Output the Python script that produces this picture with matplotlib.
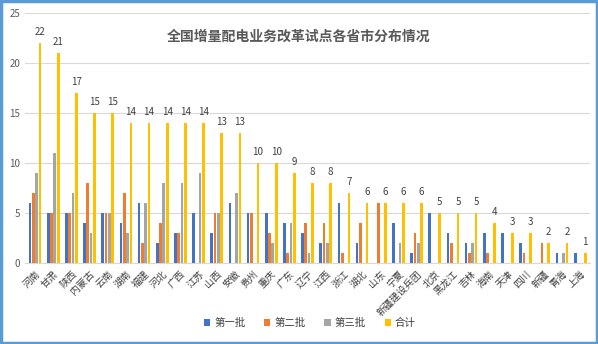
import numpy as np
import matplotlib.pyplot as plt
from matplotlib.patches import Rectangle

plt.rcParams['font.family'] = ['Noto Sans CJK SC', 'DejaVu Sans']

# data
provinces = ['河南', '甘肃', '陕西', '内蒙古', '云南', '湖南', '福建', '河北', '广西', '江苏',
             '山西', '安徽', '贵州', '重庆', '广东', '辽宁', '江西', '浙江', '湖北', '山东',
             '宁夏', '新疆建设兵团', '北京', '黑龙江', '吉林', '海南', '天津', '四川', '新疆',
             '青海', '上海']
batch1 = [6, 5, 5, 4, 5, 4, 6, 2, 3, 5, 3, 6, 5, 5, 4, 3, 2, 6, 2, 0, 4, 1, 5, 3, 2, 3, 3, 2, 0, 1, 1]
batch2 = [7, 5, 5, 8, 5, 7, 2, 4, 3, 0, 5, 0, 5, 3, 1, 4, 4, 1, 4, 6, 0, 3, 0, 2, 1, 1, 0, 1, 2, 0, 0]
batch3 = [9, 11, 7, 3, 5, 3, 6, 8, 8, 9, 5, 7, 0, 2, 4, 1, 2, 0, 0, 0, 2, 2, 0, 0, 2, 0, 0, 0, 0, 1, 0]
total = [22, 21, 17, 15, 15, 14, 14, 14, 14, 14, 13, 13, 10, 10, 9, 8, 8, 7, 6, 6, 6, 6, 5, 5, 5, 4, 3, 3, 2, 2, 1]

series = [('第一批', batch1, '#4472C4'), ('第二批', batch2, '#ED7D31'),
          ('第三批', batch3, '#A5A5A5'), ('合计', total, '#FFC000')]

fig = plt.figure(figsize=(5.98, 3.44), dpi=100)
ax = fig.add_axes([0.042, 0.235, 0.945, 0.727])

x = np.arange(len(provinces))
offsets = [-0.28, -0.10, 0.08, 0.27]
w = 0.15
for (name, vals, col), off in zip(series, offsets):
    bars = ax.bar(x + off, vals, width=w, color=col, label=name, zorder=3)
    if name == '合计':
        for b, v in zip(bars, vals):
            ax.text(b.get_x() + b.get_width() / 2, v + 0.6, str(v), ha='center', va='bottom',
                    fontsize=7, color='#404040')

ax.set_xlim(-0.55, len(provinces) - 0.45)
ax.set_ylim(0, 25)
ax.set_yticks(range(0, 26, 5))
ax.set_xticks(x)
ax.set_xticklabels(provinces, rotation=45, ha='right', rotation_mode='anchor', fontsize=7,
                   color='#404040')
ax.tick_params(axis='y', labelsize=7, labelcolor='#595959', length=0)
ax.tick_params(axis='x', length=0, pad=4)
ax.grid(axis='y', color='#D9D9D9', linewidth=0.8, zorder=0)
for s in ['top', 'right', 'left']:
    ax.spines[s].set_visible(False)
ax.spines['bottom'].set_color('#D9D9D9')

fig.text(0.5, 0.893, '全国增量配电业务改革试点各省市分布情况', ha='center', va='center',
         fontsize=10, fontweight='bold', color='#595959')

fig.legend(loc='center', bbox_to_anchor=(0.518, 0.06), ncol=4, frameon=False, fontsize=7.5,
           handlelength=0.6, handleheight=0.6, columnspacing=1.8, handletextpad=0.4,
           labelcolor='#404040')

fig.patches.append(Rectangle((0.002, 0.003), 0.996, 0.994, transform=fig.transFigure,
                             fill=False, edgecolor='#5B9BD5', linewidth=2.5))

fig.savefig('out.png', dpi=100)
